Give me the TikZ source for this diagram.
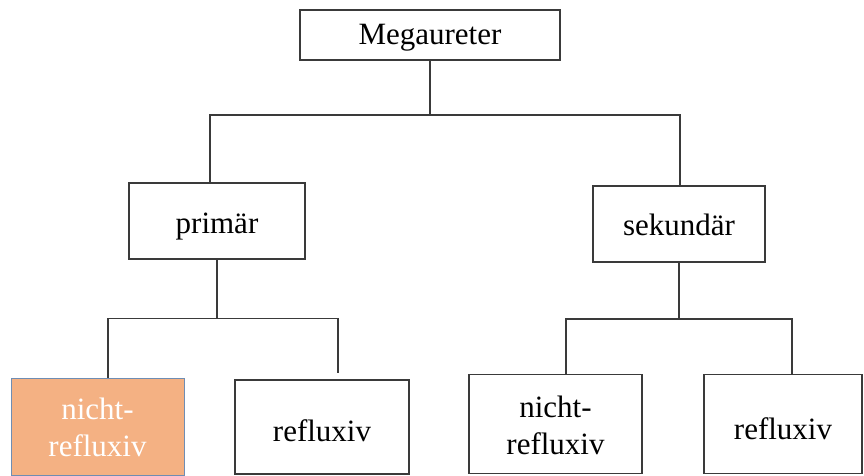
\documentclass[tikz,border=0pt]{standalone}
\usepackage{fontspec}
\setmainfont{Liberation Serif}
\definecolor{linegray}{HTML}{3A3A3A}
\definecolor{peach}{HTML}{F4B183}
\definecolor{peachedge}{HTML}{6F8DB3}
% text whose baseline sits #1 below the middle of its box
\newcommand{\boxtext}[2]{\raisebox{-#1}[0pt][0pt]{#2}}
% two centred lines, baseline of the first one at the reference point
\newcommand{\twolines}[2]{\begin{tabular}[t]{@{}c@{}}#1\\#2\end{tabular}}
\begin{document}
\begin{tikzpicture}[x=1pt,y=-1pt,
  box/.style={draw=linegray,line width=1.4pt,fill=white,inner sep=0pt,
    font=\fontsize{31}{37.5}\selectfont,text=black},
  hot/.style={box,draw=peachedge,line width=1pt,fill=peach,text=white},
  wire/.style={draw=linegray,line width=1.3pt}]
\useasboundingbox (0,0) rectangle (864,475);
\fill[white] (0,0) rectangle (864,475);

% tree nodes
\node[box,minimum width=260pt,minimum height=50pt] (root) at (430,35)
  {\boxtext{9pt}{Megaureter}};
\node[box,minimum width=176pt,minimum height=76pt] (prim) at (217,221)
  {\boxtext{12pt}{primär}};
\node[box,minimum width=172pt,minimum height=76pt] (sek) at (679,224)
  {\boxtext{11pt}{sekundär}};
\node[hot,minimum width=173pt,minimum height=97pt] (pn) at (97.5,426.5)
  {\boxtext{-7.5pt}{\twolines{nicht-}{refluxiv}}};
\node[box,minimum width=174pt,minimum height=94pt] (pr) at (322,427)
  {\boxtext{14pt}{refluxiv}};
\node[box,minimum width=173pt,minimum height=99pt] (sn) at (555.5,424)
  {\boxtext{-7pt}{\twolines{nicht-}{refluxiv}}};
\node[box,minimum width=158pt,minimum height=99pt] (sr) at (783,424)
  {\boxtext{15pt}{refluxiv}};

% branch points
\coordinate (j0) at (430,115);
\coordinate (j0l) at (210,115);
\coordinate (j0r) at (680,115);
\coordinate (j1) at (217,318.5);
\coordinate (j1l) at (108,318.5);
\coordinate (j1r) at (338,318.5);
\coordinate (prtip) at (338,373);
\coordinate (j2) at (679,319);
\coordinate (j2l) at (566,319);
\coordinate (j2r) at (792,319);

% connectors
\draw[wire] (root.south) -- (j0);
\draw[wire] (prim.north -| j0l) -- (j0l) -- (j0r) -- (sek.north -| j0r);
\draw[wire] (prim.south) -- (j1);
\draw[wire] (pn.north -| j1l) -- (j1l) -- (j1r) -- (prtip);
\draw[wire] (sek.south) -- (j2);
\draw[wire] (sn.north -| j2l) -- (j2l) -- (j2r) -- (sr.north -| j2r);
\end{tikzpicture}
\end{document}
